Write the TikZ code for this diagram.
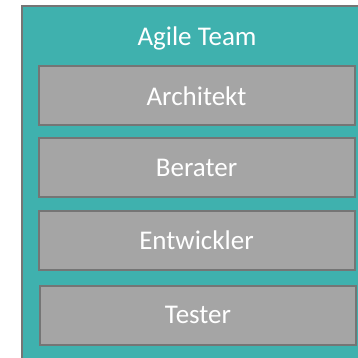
\documentclass[tikz,border=0pt]{standalone}
\usepackage{fontspec}
\setmainfont{Carlito}
\definecolor{teal1}{HTML}{3FB1AE}
\definecolor{boxgray}{HTML}{A5A5A5}
\definecolor{edgegray}{HTML}{757575}
\begin{document}
\begin{tikzpicture}[x=1pt,y=-1pt,
  rolebox/.style={draw=edgegray, line width=2pt, fill=boxgray, minimum width=316pt, minimum height=59pt, inner sep=0pt, text=white, font=\fontsize{27}{30}\selectfont},
  teambox/.style={draw=edgegray, line width=2pt, fill=teal1, inner sep=0pt}]
\useasboundingbox (0,0) rectangle (358,358);
\clip (0,0) rectangle (358,358);
\fill[white] (0,0) rectangle (358,358);
\node[teambox, minimum width=350pt, minimum height=380pt, anchor=north west] (team) at (21,5) {};
\node[text=white, font=\fontsize{27}{30}\selectfont] (title) at (197,38) {Agile Team};
\node[rolebox] (a) at (196.5,96) {Architekt};
\node[rolebox] (b) at (196.5,167.5) {Berater};
\node[rolebox] (c) at (196.5,240.5) {Entwickler};
\node[rolebox] (d) at (198,315) {Tester};
\end{tikzpicture}
\end{document}
